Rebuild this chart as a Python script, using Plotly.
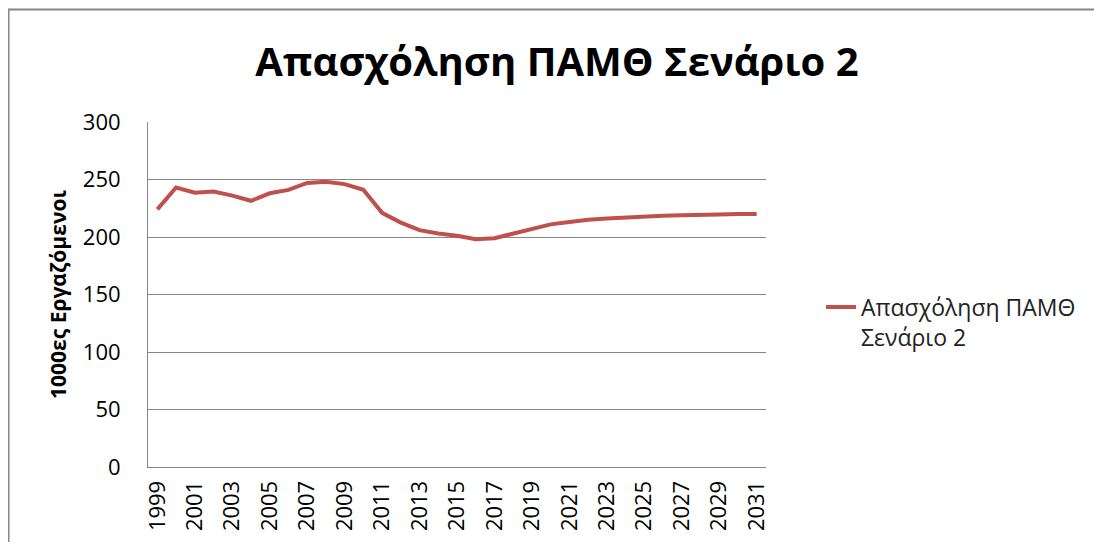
import plotly.graph_objects as go

years = [str(y) for y in range(1999, 2032)]
employment = [224, 243, 238.5, 239.5, 236, 231.5, 238, 241, 247, 248, 246, 241,
              221, 212.5, 206, 203, 201, 198, 199, 203, 207.5, 211, 213, 215,
              216, 217, 218, 218.5, 219, 219, 219.5, 220, 220]
tick_labels = [str(y) for y in range(1999, 2032, 2)]

series_name = "Απασχόληση ΠΑΜΘ<br>Σενάριο 2"
title_text = "Απασχόληση ΠΑΜΘ Σενάριο 2"
y_title = "1000ες Εργαζόμενοι"

font_family = "Open Sans, Noto Sans, DejaVu Sans, sans-serif"

# page has 8px body margin; figure sized to fit viewport exactly
W, H = 1086, 534
L, T = 140, 114
PW, PH = 618, 345
R = W - L - PW
B = H - T - PH

fig = go.Figure()
fig.add_trace(go.Scatter(
    x=years, y=employment, mode="lines", name=series_name,
    line=dict(color="#C0504D", width=4),
))

fig.update_layout(
    width=W, height=H,
    margin=dict(l=L, r=R, t=T, b=B, autoexpand=False),
    paper_bgcolor="white", plot_bgcolor="white",
    font=dict(family=font_family, color="black"),
    title=dict(text="<b>" + title_text + "</b>", x=549 / W, xanchor="center",
               y=1 - 54 / H, yanchor="middle",
               font=dict(size=40, family=font_family, color="black")),
    showlegend=True,
    legend=dict(x=1.089, xanchor="left", y=0.42, yanchor="middle", valign="top",
                font=dict(size=23, family=font_family, color="#222"),
                bgcolor="rgba(0,0,0,0)"),
    xaxis=dict(
        type="category", tickmode="array", tickvals=tick_labels, ticktext=tick_labels,
        tickangle=-90, tickfont=dict(size=22), showgrid=False,
        showline=True, linecolor="#868686", linewidth=1, ticks="",
        ticklabelstandoff=4,
        range=[-0.5, len(years) - 0.5],
    ),
    yaxis=dict(
        range=[0, 300], dtick=50, tickfont=dict(size=22),
        showgrid=True, gridcolor="#868686", gridwidth=1,
        showline=True, linecolor="#868686", linewidth=1,
        ticks="", ticklabelstandoff=22,
        title=dict(text="<b>" + y_title + "</b>", font=dict(size=21), standoff=10),
        zeroline=False,
    ),
)

# outer chart border
fig.add_shape(type="rect", xref="paper", yref="paper",
              x0=(0.5 - L) / PW, x1=(W + 20 - L) / PW,
              y0=(T + PH - (H + 20)) / PH, y1=(T + PH - 1.5) / PH,
              line=dict(color="#868686", width=2), fillcolor="rgba(0,0,0,0)", layer="below")

fig.write_html("out.html")
